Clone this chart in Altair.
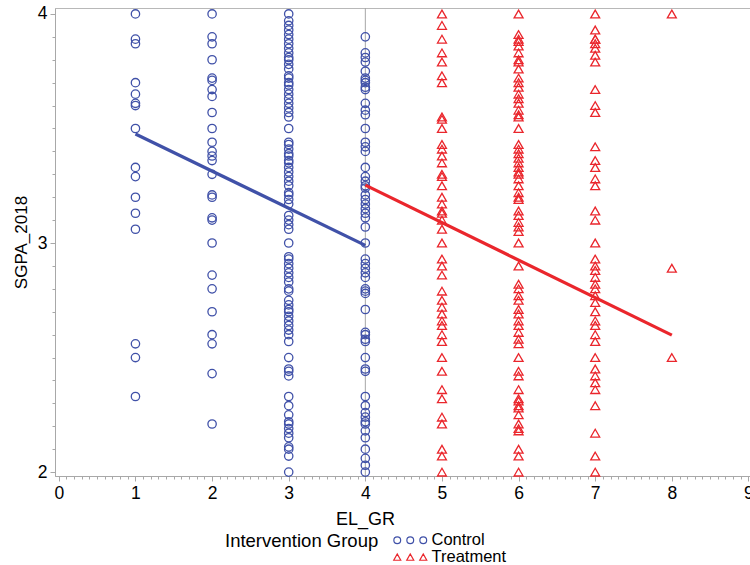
import altair as alt
import pandas as pd

# ---- data ----
ctrl_1 = [4.00, 3.89, 3.87, 3.70, 3.65, 3.61, 3.60, 3.50, 3.33, 3.29, 3.20, 3.13, 3.06, 2.56, 2.50, 2.33]
ctrl_2 = [4.00, 3.90, 3.87, 3.80, 3.72, 3.71, 3.67, 3.64, 3.57, 3.50, 3.44, 3.40, 3.38, 3.36, 3.30, 3.21,
          3.20, 3.11, 3.10, 3.00, 2.86, 2.80, 2.70, 2.60, 2.56, 2.43, 2.21]
ctrl_3 = [4.00, 3.97, 3.95, 3.93, 3.91, 3.89, 3.87, 3.85, 3.83, 3.81, 3.80, 3.78, 3.76, 3.73, 3.72, 3.70,
          3.69, 3.67, 3.65, 3.63, 3.61, 3.59, 3.57, 3.55, 3.50, 3.44, 3.43, 3.41, 3.39, 3.38, 3.36, 3.35,
          3.33, 3.31, 3.29, 3.27, 3.25, 3.22, 3.21, 3.19, 3.17, 3.12, 3.10, 3.08, 3.06, 3.00, 2.94, 2.93,
          2.91, 2.89, 2.87, 2.85, 2.83, 2.80, 2.79, 2.75, 2.73, 2.71, 2.70, 2.68, 2.66, 2.64, 2.62, 2.60,
          2.57, 2.50, 2.45, 2.44, 2.42, 2.33, 2.29, 2.25, 2.22, 2.21, 2.19, 2.17, 2.15, 2.11, 2.10, 2.07, 2.00]
ctrl_4 = [3.90, 3.83, 3.81, 3.79, 3.75, 3.72, 3.71, 3.70, 3.68, 3.67, 3.61, 3.58, 3.56, 3.50, 3.44, 3.42,
          3.40, 3.33, 3.29, 3.27, 3.25, 3.24, 3.21, 3.19, 3.17, 3.15, 3.13, 3.11, 3.07, 3.00, 2.93, 2.91,
          2.89, 2.87, 2.85, 2.80, 2.79, 2.78, 2.71, 2.61, 2.60, 2.58, 2.57, 2.50, 2.45, 2.44, 2.33, 2.29,
          2.26, 2.24, 2.22, 2.21, 2.18, 2.15, 2.10, 2.06, 2.03, 2.00]
trt_5 = [4.00, 3.95, 3.89, 3.83, 3.79, 3.73, 3.70, 3.55, 3.54, 3.50, 3.43, 3.41, 3.38, 3.35, 3.30, 3.29,
         3.25, 3.20, 3.17, 3.14, 3.13, 3.10, 3.06, 3.00, 2.93, 2.90, 2.86, 2.79, 2.75, 2.72, 2.69, 2.66,
         2.64, 2.60, 2.57, 2.50, 2.44, 2.36, 2.32, 2.24, 2.21, 2.10, 2.07, 2.00]
trt_6 = [4.00, 3.91, 3.89, 3.88, 3.86, 3.83, 3.80, 3.79, 3.76, 3.72, 3.70, 3.68, 3.65, 3.63, 3.61, 3.58,
         3.56, 3.55, 3.50, 3.43, 3.41, 3.39, 3.37, 3.35, 3.33, 3.31, 3.30, 3.28, 3.25, 3.22, 3.20, 3.19,
         3.14, 3.12, 3.09, 3.07, 3.05, 3.00, 2.90, 2.82, 2.80, 2.77, 2.75, 2.71, 2.69, 2.66, 2.64, 2.61,
         2.58, 2.56, 2.50, 2.44, 2.42, 2.36, 2.32, 2.31, 2.29, 2.28, 2.25, 2.21, 2.19, 2.18, 2.10, 2.07, 2.00]
trt_7 = [4.00, 3.93, 3.89, 3.89, 3.87, 3.85, 3.82, 3.79, 3.67, 3.60, 3.57, 3.42, 3.36, 3.33, 3.28, 3.25,
         3.14, 3.10, 3.00, 2.93, 2.90, 2.88, 2.85, 2.82, 2.80, 2.77, 2.74, 2.70, 2.66, 2.64, 2.60, 2.57,
         2.50, 2.45, 2.42, 2.39, 2.36, 2.29, 2.17, 2.07, 2.00]
trt_8 = [4.00, 2.89, 2.50]

columns = [(1, "Control", ctrl_1), (2, "Control", ctrl_2), (3, "Control", ctrl_3), (4, "Control", ctrl_4),
           (5, "Treatment", trt_5), (6, "Treatment", trt_6), (7, "Treatment", trt_7), (8, "Treatment", trt_8)]

# fitted regression line end points
fit_x_control = [1, 4]
fit_y_control = [3.476, 2.990]
fit_x_treatment = [4, 8]
fit_y_treatment = [3.253, 2.598]

ref_line_x = [4]

groups = ["Control", "Treatment"]
colors = ["#4051A8", "#EA262C"]

rows = []
for xv, g, vals in columns:
    for v in vals:
        rows.append({"EL_GR": xv, "SGPA_2018": v, "group": g})
points_df = pd.DataFrame(rows)

fit_df = pd.DataFrame({
    "EL_GR": fit_x_control + fit_x_treatment,
    "SGPA_2018": fit_y_control + fit_y_treatment,
    "group": ["Control"] * 2 + ["Treatment"] * 2,
})
ref_df = pd.DataFrame({"EL_GR": ref_line_x})

FONT = "Liberation Sans, Arial, Helvetica, sans-serif"
major = "abs(datum.value - round(datum.value)) < 0.001"

x_ticks = [round(i * 0.1, 1) for i in range(0, 91)]
y_ticks = [round(2 + i * 0.1, 1) for i in range(0, 21)]

x_scale = alt.Scale(domain=[-0.05, 9.02], nice=False, zero=False)
y_scale = alt.Scale(domain=[1.983, 4.026], nice=False, zero=False)

x_axis = alt.Axis(values=x_ticks, labelExpr=f"{major} ? format(datum.value, 'd') : ''",
                  tickSize={"condition": {"test": major, "value": 5}, "value": 3},
                  grid=False, labelFlush=False, labelOverlap=False, labelPadding=3,
                  title="EL_GR", titleX=310, titlePadding=9, titleFontSize=18)
y_axis = alt.Axis(values=y_ticks, labelExpr=f"{major} ? format(datum.value, 'd') : ''",
                  tickSize={"condition": {"test": major, "value": 5}, "value": 3},
                  grid=False, labelFlush=False, labelOverlap=False, labelPadding=3,
                  title="SGPA_2018", titlePadding=7)

x_enc = alt.X("EL_GR:Q", scale=x_scale, axis=x_axis)
y_enc = alt.Y("SGPA_2018:Q", scale=y_scale, axis=y_axis)

def circ(cx, r=3.4):
    return f"M{cx - r},0 a{r},{r} 0 1,0 {2 * r},0 a{r},{r} 0 1,0 {-2 * r},0 "

def tri(cx):
    return f"M{cx - 3.5},3 L{cx + 3.5},3 L{cx},-3.3 Z "

circles_path = "".join(circ(c) for c in (-26, -13, 0))
tris_path = "".join(tri(c) for c in (-26, -13, 0))

legend = alt.Legend(
    title="Intervention Group", orient="none", legendX=170, legendY=524,
    direction="vertical", titleOrient="left", titleAnchor="start", symbolSize=4, symbolStrokeWidth=1.2,
    labelFontSize=16.5, titleFontSize=18.5, titleFontWeight="normal", rowPadding=-4,
    titlePadding=36, labelOffset=0, padding=0,
    symbolType=alt.ExprRef(expr=f"datum.value === 'Control' ? '{circles_path}' : '{tris_path}'"),
)

color_scale = alt.Scale(domain=groups, range=colors)

rule = alt.Chart(ref_df).mark_rule(color="#A6A6A6", strokeWidth=1).encode(x=x_enc)

ctrl_points = alt.Chart(points_df).transform_filter(alt.datum.group == "Control").mark_point(
    filled=False, size=70, strokeWidth=1.3, opacity=1
).encode(
    x=x_enc, y=y_enc,
    color=alt.Color("group:N", scale=color_scale, legend=legend),
)

trt_points = alt.Chart(points_df).transform_filter(alt.datum.group == "Treatment").mark_point(
    filled=False, shape="triangle-up", size=80, strokeWidth=1.3, opacity=1
).encode(
    x=x_enc, y=y_enc,
    color=alt.Color("group:N", scale=color_scale, legend=None),
)

lines = alt.Chart(fit_df).mark_line(strokeWidth=3.2).encode(
    x=x_enc, y=y_enc,
    color=alt.Color("group:N", scale=color_scale, legend=None),
    detail="group:N",
)

chart = alt.layer(rule, ctrl_points, trt_points, lines).properties(
    width=695, height=468,
    autosize=alt.AutoSizeParams(type="none"),
    padding={"left": 55, "top": 8, "right": 0, "bottom": 89},
    background="white",
).configure_view(
    stroke="#B8B8B8", strokeWidth=1
).configure_axis(
    domainColor="#A8A8A8", tickColor="#A8A8A8", labelColor="#000000", titleColor="#000000",
    labelFont=FONT, titleFont=FONT, labelFontSize=17.5, titleFontSize=17, titleFontWeight="normal",
).configure_legend(
    labelFont=FONT, titleFont=FONT, labelColor="#000000", titleColor="#000000",
)

chart.save("out.html", embed_options={"renderer": "svg", "actions": False})
